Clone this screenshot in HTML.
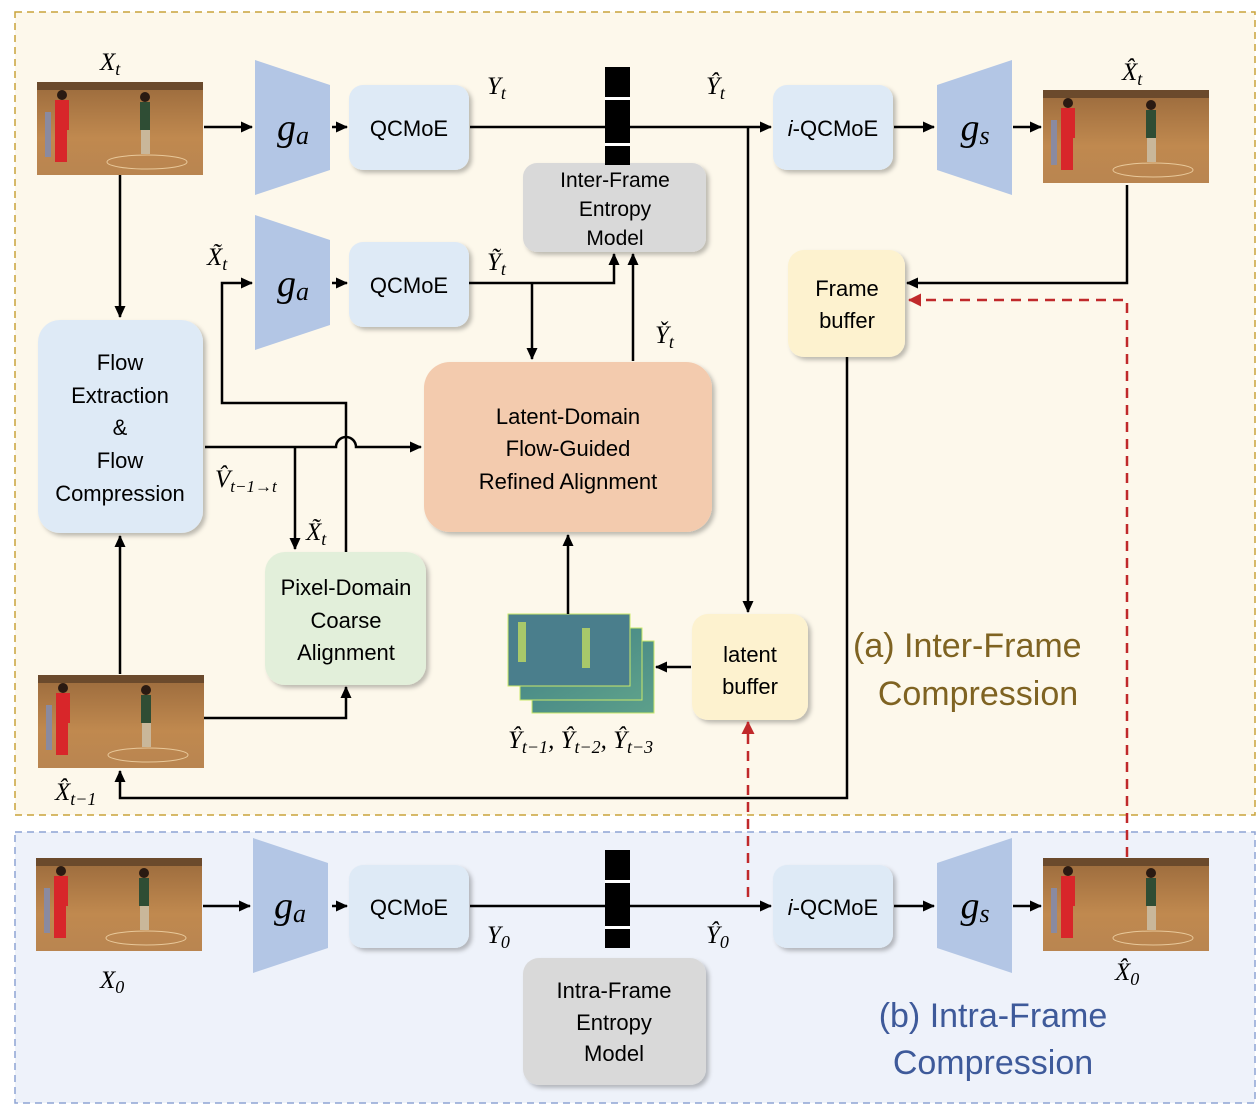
<!DOCTYPE html>
<html><head><meta charset="utf-8"><style>
body{margin:0;background:#fff}
svg text{font-family:"Liberation Sans",sans-serif}
svg .m text, svg text.m{font-family:"Liberation Serif",serif;font-style:italic}
</style></head><body>
<svg width="1260" height="1108" viewBox="0 0 1260 1108" xmlns="http://www.w3.org/2000/svg">
<defs>
<marker id="a" markerWidth="12" markerHeight="12" refX="11" refY="6" orient="auto" markerUnits="userSpaceOnUse"><path d="M0,0.5 L12,6 L0,11.5 z" fill="#000"/></marker>
<marker id="r" markerWidth="13" markerHeight="13" refX="12" refY="6.5" orient="auto" markerUnits="userSpaceOnUse"><path d="M0,0 L13,6.5 L0,13 z" fill="#c0292b"/></marker>
<linearGradient id="wall" x1="0" y1="0" x2="0" y2="1"><stop offset="0" stop-color="#9a6a3c"/><stop offset="0.6" stop-color="#c0894f"/><stop offset="1" stop-color="#b98550"/></linearGradient>
<linearGradient id="lat" x1="0" y1="0" x2="1" y2="1"><stop offset="0" stop-color="#3f7f86"/><stop offset="1" stop-color="#5da08a"/></linearGradient>
<filter id="s" x="-10%" y="-10%" width="125%" height="125%"><feDropShadow dx="3" dy="3" stdDeviation="2" flood-opacity="0.25"/></filter>
<g id="img">
<rect width="166" height="93" fill="url(#wall)"/>
<rect y="0" width="166" height="8" fill="#6b4a2c"/>
<ellipse cx="110" cy="80" rx="40" ry="7" fill="none" stroke="#e8c89a" stroke-width="1"/>
<rect x="8" y="30" width="6" height="45" fill="#8a8aa0"/>
<rect x="18" y="18" width="14" height="30" fill="#d8262a"/>
<rect x="18" y="48" width="12" height="32" fill="#d8262a"/>
<circle cx="25" cy="13" r="5" fill="#2a1a12"/>
<rect x="103" y="20" width="10" height="28" fill="#2f4d34"/>
<rect x="104" y="48" width="9" height="24" fill="#c9b79a"/>
<circle cx="108" cy="15" r="5" fill="#2a1a12"/>
</g>
<g id="ga"><path d="M0,0 L75,25 L75,110 L0,135 z" fill="#b3c6e5"/></g>
<g id="gs"><path d="M0,25 L75,0 L75,135 L0,110 z" fill="#b3c6e5"/></g>
<g id="q"><rect width="25" height="98" fill="#000"/><rect y="30" width="25" height="3" fill="#fff"/><rect y="76" width="25" height="3" fill="#fff"/></g>
</defs>
<rect x="15" y="12" width="1240" height="803" fill="#fdf8eb" stroke="#c9a33a" stroke-width="1.5" stroke-dasharray="7,5"/>
<rect x="15" y="832" width="1240" height="271" fill="#eef2fa" stroke="#8ea4d4" stroke-width="1.5" stroke-dasharray="7,5"/>

<use href="#img" x="37" y="82"/>
<use href="#img" x="38" y="675"/>
<use href="#img" x="36" y="858"/>
<use href="#img" x="1043" y="90"/>
<use href="#img" x="1043" y="858"/>

<use href="#ga" x="255" y="60"/>
<use href="#ga" x="255" y="215"/>
<use href="#ga" x="253" y="838"/>
<use href="#gs" x="937" y="60"/>
<use href="#gs" x="937" y="838"/>
<g class="m">
<text x="293" y="140" font-size="38" text-anchor="middle">g<tspan font-size="26" dy="4">a</tspan></text>
<text x="293" y="296" font-size="38" text-anchor="middle">g<tspan font-size="26" dy="4">a</tspan></text>
<text x="290" y="918" font-size="38" text-anchor="middle">g<tspan font-size="26" dy="4">a</tspan></text>
<text x="975" y="140" font-size="38" text-anchor="middle">g<tspan font-size="26" dy="4">s</tspan></text>
<text x="975" y="918" font-size="38" text-anchor="middle">g<tspan font-size="26" dy="4">s</tspan></text>
</g>

<g filter="url(#s)">
<rect x="349" y="85" width="120" height="85" rx="14" fill="#deeaf6"/>
<rect x="349" y="242" width="120" height="85" rx="14" fill="#deeaf6"/>
<rect x="349" y="865" width="120" height="83" rx="14" fill="#deeaf6"/>
<rect x="773" y="85" width="120" height="85" rx="14" fill="#deeaf6"/>
<rect x="773" y="865" width="120" height="83" rx="14" fill="#deeaf6"/>
<rect x="523" y="163" width="183" height="89" rx="14" fill="#d9d9d9"/>
<rect x="523" y="958" width="183" height="127" rx="16" fill="#d9d9d9"/>
<rect x="38" y="320" width="165" height="213" rx="22" fill="#deeaf6"/>
<rect x="265" y="552" width="161" height="133" rx="20" fill="#e2efda"/>
<rect x="424" y="362" width="288" height="170" rx="26" fill="#f3cbae"/>
<rect x="788" y="250" width="117" height="107" rx="16" fill="#fdf2cf"/>
<rect x="692" y="614" width="116" height="106" rx="16" fill="#fdf2cf"/>
</g>
<use href="#q" x="605" y="67"/>
<use href="#q" x="605" y="850"/>

<g font-size="22" text-anchor="middle" fill="#000">
<text x="409" y="136">QCMoE</text>
<text x="409" y="293">QCMoE</text>
<text x="409" y="915">QCMoE</text>
<text x="833" y="136"><tspan font-style="italic">i</tspan>-QCMoE</text>
<text x="833" y="915"><tspan font-style="italic">i</tspan>-QCMoE</text>
<text x="615" y="187" font-size="21">Inter-Frame</text>
<text x="615" y="216" font-size="21">Entropy</text>
<text x="615" y="245" font-size="21">Model</text>
<text x="614" y="998">Intra-Frame</text>
<text x="614" y="1030">Entropy</text>
<text x="614" y="1061">Model</text>
<text x="120" y="370">Flow</text>
<text x="120" y="403">Extraction</text>
<text x="120" y="435">&amp;</text>
<text x="120" y="468">Flow</text>
<text x="120" y="501">Compression</text>
<text x="346" y="595">Pixel-Domain</text>
<text x="346" y="628">Coarse</text>
<text x="346" y="660">Alignment</text>
<text x="568" y="424">Latent-Domain</text>
<text x="568" y="456">Flow-Guided</text>
<text x="568" y="489">Refined Alignment</text>
<text x="847" y="296">Frame</text>
<text x="847" y="328">buffer</text>
<text x="750" y="662">latent</text>
<text x="750" y="694">buffer</text>
</g>
<text x="853" y="657" font-size="34" fill="#7f6322">(a)  Inter-Frame</text>
<text x="978" y="705" font-size="34" fill="#7f6322" text-anchor="middle">Compression</text>
<text x="993" y="1027" font-size="34" fill="#3e5a9a" text-anchor="middle">(b) Intra-Frame</text>
<text x="993" y="1074" font-size="34" fill="#3e5a9a" text-anchor="middle">Compression</text>

<rect x="532" y="641" width="122" height="72" fill="url(#lat)" stroke="#c9e86a"/>
<rect x="520" y="628" width="122" height="72" fill="url(#lat)" stroke="#c9e86a"/>
<rect x="508" y="614" width="122" height="72" fill="#4a7e8c" stroke="#c9e86a"/>
<rect x="582" y="628" width="8" height="40" fill="#a8c86a"/>
<rect x="518" y="622" width="8" height="40" fill="#a8c86a"/>

<g stroke="#000" stroke-width="2.5" fill="none">
<path d="M204,127 H252" marker-end="url(#a)"/>
<path d="M332,127 H347" marker-end="url(#a)"/>
<path d="M470,127 H605 M630,127 H771" marker-end="url(#a)"/>
<path d="M748,127 V612" marker-end="url(#a)"/>
<path d="M894,127 H934" marker-end="url(#a)"/>
<path d="M1013,127 H1041" marker-end="url(#a)"/>
<path d="M1127,185 V283 H907" marker-end="url(#a)"/>
<path d="M847,357 V798 H120 V771" marker-end="url(#a)"/>
<path d="M120,175 V317" marker-end="url(#a)"/>
<path d="M120,674 V536" marker-end="url(#a)"/>
<path d="M204,718 H346 V687" marker-end="url(#a)"/>
<path d="M205,447 H336 A10,10 0 0 1 356,447 H421" marker-end="url(#a)"/>
<path d="M295,447 V549" marker-end="url(#a)"/>
<path d="M346,552 V403 H222 V283 H252" marker-end="url(#a)"/>
<path d="M332,283 H347" marker-end="url(#a)"/>
<path d="M469,283 H614 V254" marker-end="url(#a)"/>
<path d="M532,283 V359" marker-end="url(#a)"/>
<path d="M633,361 V254" marker-end="url(#a)"/>
<path d="M568,614 V535" marker-end="url(#a)"/>
<path d="M691,667 H656" marker-end="url(#a)"/>
<path d="M203,906 H250" marker-end="url(#a)"/>
<path d="M332,906 H347" marker-end="url(#a)"/>
<path d="M470,906 H605 M630,906 H771" marker-end="url(#a)"/>
<path d="M894,906 H934" marker-end="url(#a)"/>
<path d="M1013,906 H1041" marker-end="url(#a)"/>
</g>
<g stroke="#c0292b" stroke-width="2.5" fill="none" stroke-dasharray="10,7">
<path d="M1127,857 V300 H909" marker-end="url(#r)"/>
<path d="M748,897 V722" marker-end="url(#r)"/>
</g>

<g class="m" font-size="25" fill="#000">
<text x="100" y="70">X<tspan font-size="18" dy="5">t</tspan></text>
<text x="487" y="94">Y<tspan font-size="18" dy="5">t</tspan></text>
<text x="706" y="94">Ŷ<tspan font-size="18" dy="5">t</tspan></text>
<text x="1122" y="80">X̂<tspan font-size="18" dy="5">t</tspan></text>
<text x="207" y="265">X̃<tspan font-size="18" dy="5">t</tspan></text>
<text x="487" y="270">Ỹ<tspan font-size="18" dy="5">t</tspan></text>
<text x="655" y="343">Y̌<tspan font-size="18" dy="5">t</tspan></text>
<text x="215" y="487">V̂<tspan font-size="17" dy="5">t−1→t</tspan></text>
<text x="306" y="540">X̃<tspan font-size="18" dy="5">t</tspan></text>
<text x="55" y="800">X̂<tspan font-size="18" dy="5">t−1</tspan></text>
<text x="508" y="748">Ŷ<tspan font-size="18" dy="5">t−1</tspan><tspan dy="-5">, Ŷ</tspan><tspan font-size="18" dy="5">t−2</tspan><tspan dy="-5">, Ŷ</tspan><tspan font-size="18" dy="5">t−3</tspan></text>
<text x="100" y="988">X<tspan font-size="18" dy="5">0</tspan></text>
<text x="487" y="943">Y<tspan font-size="18" dy="5">0</tspan></text>
<text x="706" y="943">Ŷ<tspan font-size="18" dy="5">0</tspan></text>
<text x="1115" y="980">X̂<tspan font-size="18" dy="5">0</tspan></text>
</g>
</svg>
</body></html>
